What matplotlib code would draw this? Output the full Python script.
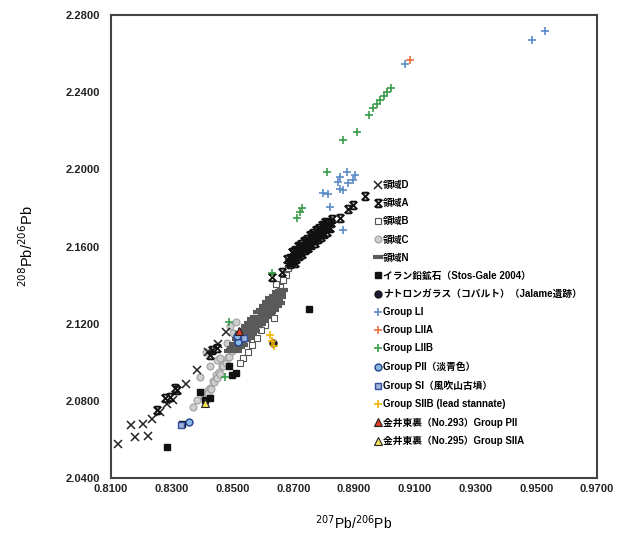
import matplotlib
matplotlib.use("Agg")
import matplotlib.pyplot as plt
from matplotlib.path import Path

plt.rcParams['font.family'] = ['Liberation Sans', 'Noto Sans CJK JP', 'DejaVu Sans']

# ---- data (207Pb/206Pb, 208Pb/206Pb) ----
d_x = [0.8123, 0.8179, 0.8222, 0.8166, 0.8205, 0.8235, 0.8261, 0.8284, 0.8304,
       0.8347, 0.8383, 0.8419, 0.8452, 0.8478]
d_y = [2.0576, 2.0612, 2.0618, 2.0675, 2.0680, 2.0706, 2.0742, 2.0783, 2.0804,
       2.0887, 2.0959, 2.1053, 2.1094, 2.1156]

a_x = [0.8680, 0.8685, 0.8690, 0.8694, 0.8699, 0.8703, 0.8708, 0.8712, 0.8716,
       0.8721, 0.8725, 0.8730, 0.8734, 0.8739, 0.8743, 0.8748, 0.8752, 0.8757,
       0.8761, 0.8766, 0.8770, 0.8775, 0.8779, 0.8784, 0.8788, 0.8793, 0.8797,
       0.8802, 0.8806, 0.8811, 0.8815, 0.8820, 0.8824, 0.8829,
       0.8690, 0.8700, 0.8710, 0.8720, 0.8730, 0.8740, 0.8750, 0.8760, 0.8770,
       0.8780, 0.8790, 0.8800, 0.8810, 0.8820,
       0.8695, 0.8705, 0.8715, 0.8725, 0.8735, 0.8745, 0.8755, 0.8765, 0.8775,
       0.8785, 0.8795, 0.8805,
       0.8630, 0.8663, 0.8705, 0.8853, 0.8896, 0.8936, 0.8880,
       0.8278, 0.8294, 0.8311, 0.8317, 0.8426, 0.8432, 0.8449, 0.8251]
a_y = [2.1535, 2.1518, 2.1540, 2.1522, 2.1568, 2.1553, 2.1548, 2.1576, 2.1567,
       2.1595, 2.1570, 2.1596, 2.1590, 2.1623, 2.1591, 2.1625, 2.1613, 2.1643,
       2.1632, 2.1662, 2.1633, 2.1659, 2.1653, 2.1683, 2.1663, 2.1688, 2.1671,
       2.1705, 2.1698, 2.1723, 2.1703, 2.1725, 2.1720, 2.1742,
       2.1507, 2.1525, 2.1533, 2.1553, 2.1563, 2.1583, 2.1593, 2.1609, 2.1619,
       2.1639, 2.1651, 2.1667, 2.1677, 2.1697,
       2.1572, 2.1583, 2.1601, 2.1613, 2.1629, 2.1639, 2.1659, 2.1670, 2.1686,
       2.1698, 2.1714, 2.1725,
       2.1441, 2.1467, 2.1514, 2.1747, 2.1814, 2.1861, 2.1793,
       2.0814, 2.0820, 2.0866, 2.0856, 2.1037, 2.1063, 2.1073, 2.0752]

b_x = [0.8676, 0.8666, 0.8656, 0.8646, 0.8649, 0.8630, 0.8617, 0.8636, 0.8607,
       0.8593, 0.8580, 0.8564, 0.8551, 0.8534, 0.8524, 0.8663, 0.8682, 0.8643]
b_y = [2.1452, 2.1426, 2.1389, 2.1338, 2.1307, 2.1270, 2.1255, 2.1229, 2.1193,
       2.1167, 2.1125, 2.1089, 2.1053, 2.1022, 2.0996, 2.1364, 2.1488, 2.1405]

c_x = [0.8405, 0.8410, 0.8415, 0.8420, 0.8425, 0.8430, 0.8435, 0.8440, 0.8445,
       0.8450, 0.8455, 0.8460, 0.8465, 0.8470, 0.8475, 0.8480, 0.8485, 0.8490,
       0.8495, 0.8500, 0.8505, 0.8510, 0.8515, 0.8520, 0.8525,
       0.8393, 0.8370, 0.8383, 0.8449, 0.8459, 0.8482, 0.8501, 0.8426, 0.8413,
       0.8492, 0.8511]
c_y = [2.0819, 2.0811, 2.0851, 2.0841, 2.0867, 2.0861, 2.0901, 2.0898, 2.0932,
       2.0917, 2.0950, 2.0940, 2.0980, 2.0979, 2.1010, 2.0997, 2.1029, 2.1026,
       2.1065, 2.1056, 2.1087, 2.1076, 2.1108, 2.1107, 2.1142,
       2.0923, 2.0768, 2.0804, 2.1011, 2.1022, 2.1099, 2.1151, 2.0980, 2.1053,
       2.1187, 2.1208]

n_x = [0.8490, 0.8495, 0.8500,
       0.8506, 0.8511, 0.8516, 0.8520, 0.8525, 0.8530, 0.8535, 0.8540, 0.8545,
       0.8550, 0.8555, 0.8560, 0.8565, 0.8570, 0.8575, 0.8580, 0.8585, 0.8590,
       0.8595, 0.8600, 0.8605, 0.8610, 0.8615, 0.8620, 0.8625, 0.8630, 0.8635,
       0.8640, 0.8645, 0.8650, 0.8655, 0.8660, 0.8665,
       0.8520, 0.8530, 0.8540, 0.8550, 0.8560, 0.8570, 0.8580, 0.8590, 0.8600,
       0.8610, 0.8620, 0.8630, 0.8640, 0.8650, 0.8660,
       0.8525, 0.8535, 0.8545, 0.8555, 0.8565, 0.8575, 0.8585, 0.8595, 0.8605,
       0.8615, 0.8625, 0.8635, 0.8645,
       0.8515, 0.8525, 0.8535, 0.8545, 0.8555, 0.8565, 0.8575, 0.8585, 0.8595,
       0.8605, 0.8615, 0.8625, 0.8635, 0.8645, 0.8655]
n_y = [2.1057, 2.1066, 2.1075,
       2.1095, 2.1082, 2.1123, 2.1107, 2.1134, 2.1111, 2.1144, 2.1137, 2.1178,
       2.1150, 2.1177, 2.1163, 2.1204, 2.1195, 2.1228, 2.1206, 2.1236, 2.1215,
       2.1261, 2.1250, 2.1285, 2.1256, 2.1286, 2.1281, 2.1316, 2.1295, 2.1325,
       2.1308, 2.1347, 2.1337, 2.1367, 2.1352, 2.1377,
       2.1083, 2.1107, 2.1117, 2.1141, 2.1152, 2.1175, 2.1190, 2.1214, 2.1225,
       2.1248, 2.1263, 2.1287, 2.1297, 2.1319, 2.1339,
       2.1150, 2.1165, 2.1188, 2.1202, 2.1222, 2.1236, 2.1259, 2.1273, 2.1294,
       2.1310, 2.1332, 2.1344, 2.1366,
       2.1057, 2.1078, 2.1091, 2.1113, 2.1128, 2.1148, 2.1163, 2.1186, 2.1201,
       2.1221, 2.1236, 2.1256, 2.1271, 2.1293, 2.1309]

iran_x = [0.8284, 0.8334, 0.8393, 0.8409, 0.8426, 0.8488, 0.8511, 0.8498, 0.8752]
iran_y = [2.0561, 2.0680, 2.0845, 2.0804, 2.0814, 2.0980, 2.0944, 2.0934, 2.1275]

natron_x = [0.8633]
natron_y = [2.1099]

li_x = [0.9485, 0.9528, 0.9067, 0.8853, 0.8876, 0.8896, 0.8880, 0.8847, 0.8863,
        0.8853, 0.8797, 0.8814, 0.8820, 0.8863, 0.8903]
li_y = [2.2669, 2.2715, 2.2545, 2.1959, 2.1985, 2.1944, 2.1928, 2.1933, 2.1892,
        2.1897, 2.1876, 2.1871, 2.1804, 2.1685, 2.1970]

liia_x = [0.9084]
liia_y = [2.2566]

liib_x = [0.9021, 0.9008, 0.8998, 0.8985, 0.8975, 0.8962, 0.8949, 0.8909, 0.8863,
          0.8811, 0.8728, 0.8722, 0.8712, 0.8630, 0.8488, 0.8475]
liib_y = [2.2420, 2.2400, 2.2379, 2.2358, 2.2337, 2.2317, 2.2280, 2.2192, 2.2151,
          2.1985, 2.1799, 2.1778, 2.1747, 2.1462, 2.1208, 2.0923]

pii_x = [0.8518, 0.8515, 0.8357]
pii_y = [2.1104, 2.1136, 2.0690]

si_x = [0.8330, 0.8538]
si_y = [2.0675, 2.1125]

siib_x = [0.8623, 0.8630, 0.8636]
siib_y = [2.1141, 2.1110, 2.1084]

k293_x = [0.8521]
k293_y = [2.1162]
k295_x = [0.8409]
k295_y = [2.0789]

labels = ['領域D', '領域A', '領域B', '領域C', '領域N',
          'イラン鉛鉱石（Stos-Gale 2004）',
          'ナトロンガラス（コバルト）（Jalame遺跡）',
          'Group LI', 'Group LIIA', 'Group LIIB',
          'Group PII（淡青色）', 'Group SI（風吹山古墳）',
          'Group SIIB (lead stannate)',
          '金井東裏（No.293）Group PII',
          '金井東裏（No.295）Group SIIA']

# x with bars top and bottom
bowtie = Path([(-1, -1), (1, 1), (-1, 1), (1, -1), (-0.7, 1), (0.7, 1), (-0.7, -1), (0.7, -1)],
              [Path.MOVETO, Path.LINETO] * 4)

fig = plt.figure(figsize=(6.2, 5.33), dpi=100)
ax = fig.add_axes([0.179, 0.103, 0.784, 0.869])

h = {}
h[2] = ax.plot(b_x, b_y, 's', ms=5, mfc='white', mec='#555555', mew=0.8, zorder=2)[0]
h[3] = ax.plot(c_x, c_y, 'o', ms=5, mfc='#cfcfcf', mec='#a0a0a0', mew=0.8, zorder=2)[0]
h[4] = ax.plot(n_x, n_y, '_', ms=7, mec='#5a5a5a', mew=3, zorder=3)[0]
h[0] = ax.plot(d_x, d_y, 'x', ms=5.5, mec='#222222', mew=1.1, zorder=4)[0]
h[1] = ax.plot(a_x, a_y, marker=bowtie, ls='none', ms=5.5, mfc='none', mec='#111111', mew=1.4, zorder=4)[0]
h[5] = ax.plot(iran_x, iran_y, 's', ms=5, color='#111111', zorder=5)[0]
h[6] = ax.plot(natron_x, natron_y, 'o', ms=5, mfc='#1c1c3c', mec='#111111', zorder=5)[0]
h[7] = ax.plot(li_x, li_y, '+', ms=6, mec='#5b8bc8', mew=1.2, zorder=5)[0]
h[8] = ax.plot(liia_x, liia_y, '+', ms=6, mec='#e6703a', mew=1.2, zorder=6)[0]
h[9] = ax.plot(liib_x, liib_y, '+', ms=6, mec='#3c9c4c', mew=1.2, zorder=5)[0]
h[10] = ax.plot(pii_x, pii_y, 'o', ms=5, mfc='#8cb8e4', mec='#23408c', mew=1.0, zorder=6)[0]
h[11] = ax.plot(si_x, si_y, 's', ms=4.5, mfc='#9fb3d8', mec='#2f4f9f', mew=1.0, zorder=6)[0]
h[12] = ax.plot(siib_x, siib_y, '+', ms=6, mec='#f0b400', mew=1.2, zorder=6)[0]
h[13] = ax.plot(k293_x, k293_y, '^', ms=6, mfc='#e03a2a', mec='#222222', mew=0.8, zorder=7)[0]
h[14] = ax.plot(k295_x, k295_y, '^', ms=6, mfc='#f6e25a', mec='#222222', mew=0.8, zorder=7)[0]

ax.set_xlim(0.81, 0.97)
ax.set_ylim(2.04, 2.28)
ax.set_xticks([0.81 + 0.02 * i for i in range(9)])
ax.set_yticks([2.04 + 0.04 * i for i in range(7)])
ax.xaxis.set_major_formatter(matplotlib.ticker.FormatStrFormatter('%.4f'))
ax.yaxis.set_major_formatter(matplotlib.ticker.FormatStrFormatter('%.4f'))
ax.tick_params(length=0, labelsize=8, colors='#222222')
ax.tick_params(axis='y', pad=8)
ax.tick_params(axis='x', pad=4)
for lab in ax.get_xticklabels() + ax.get_yticklabels():
    lab.set_fontweight('bold')
for sp in ax.spines.values():
    sp.set_color('#444444')
    sp.set_linewidth(1.5)

ax.set_xlabel(r'$^{207}$Pb/$^{206}$Pb', fontsize=10, labelpad=14)
ax.set_ylabel(r'$^{208}$Pb/$^{206}$Pb', fontsize=10.5, labelpad=21)

ax.legend([h[i] for i in range(15)], labels, loc='upper left',
          bbox_to_anchor=(0.535, 0.652), frameon=False,
          handlelength=0.6, handletextpad=0.25, labelspacing=0.84,
          borderaxespad=0, prop={'weight': 'bold', 'size': 7})

fig.savefig('out.png', dpi=100)
